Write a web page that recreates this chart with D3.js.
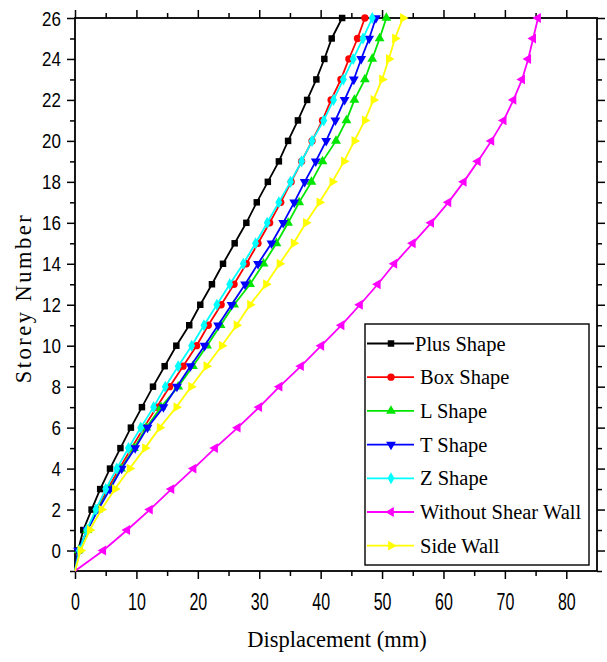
<!DOCTYPE html>
<html>
<head>
<meta charset="utf-8">
<script src="https://d3js.org/d3.v7.min.js"></script>
<style>
  body { margin: 0; background: #fff; }
  .tick text { font-family: "Liberation Sans", Arial, sans-serif; font-size: 20px; fill: #000; }
  .axis line { stroke: #000; stroke-width: 1.5; }
  .title { font-family: "Liberation Serif", Tinos, "Times New Roman", serif; font-size: 22.5px; fill: #000; }
  .legend text { font-family: "Liberation Serif", Tinos, "Times New Roman", serif; font-size: 20.5px; fill: #000; }
</style>
</head>
<body>
<script>
// storey levels (-1 = base)
var storeys = d3.range(-1, 27);

var plusShape = [0, 0.5, 1.35, 2.7, 4.1, 5.7, 7.4, 9.1, 10.9, 12.7, 14.6, 16.5, 18.6, 20.4, 22.3, 24.1, 26.0, 27.9, 29.6, 31.4, 33.2, 34.7, 36.3, 37.8, 39.3, 40.6, 41.8, 43.5];
var boxShape = [0, 0.7, 2.0, 3.6, 5.3, 7.2, 9.2, 11.2, 13.3, 15.4, 17.6, 19.8, 21.7, 23.8, 25.9, 27.9, 29.8, 31.7, 33.5, 35.2, 36.9, 38.6, 40.3, 41.7, 43.3, 44.6, 46.0, 47.2];
var lShape = [0, 0.6, 2.0, 3.7, 5.6, 7.5, 9.6, 11.6, 14.0, 16.8, 19.2, 21.5, 23.7, 25.9, 28.5, 30.7, 32.8, 34.7, 36.5, 38.5, 40.3, 42.5, 44.2, 45.5, 47.2, 48.4, 49.6, 50.7];
var tShape = [0, 0.5, 2.0, 3.8, 5.7, 7.6, 9.8, 11.8, 14.4, 16.6, 18.8, 21.1, 23.3, 25.5, 27.7, 29.8, 32.0, 33.9, 35.7, 37.4, 39.2, 40.9, 42.4, 43.9, 45.4, 46.6, 47.9, 49.0];
var zShape = [0, 0.7, 1.9, 3.4, 5.0, 6.8, 8.7, 10.7, 12.8, 14.7, 16.8, 19.0, 21.0, 23.1, 25.2, 27.4, 29.4, 31.3, 33.2, 35.1, 36.9, 38.6, 40.5, 42.1, 43.7, 45.3, 46.9, 48.4];
var withoutWall = [0, 4.6, 8.5, 12.2, 15.7, 19.3, 22.8, 26.5, 30.0, 33.3, 36.8, 40.1, 43.4, 46.4, 49.3, 52.0, 55.0, 58.0, 60.8, 63.3, 65.6, 67.8, 69.8, 71.4, 72.8, 73.8, 74.6, 75.4];
var sideWall = [0, 0.9, 2.4, 4.3, 6.5, 8.9, 11.4, 13.8, 16.5, 18.9, 21.4, 23.9, 26.3, 28.5, 31.1, 33.3, 35.6, 37.6, 39.8, 41.9, 43.8, 45.5, 47.2, 48.6, 50.0, 51.1, 52.1, 53.4];

var seriesNames = ["Plus Shape", "Box Shape", "L Shape", "T Shape", "Z Shape", "Without Shear Wall", "Side Wall"];
var seriesValues = [plusShape, boxShape, lShape, tShape, zShape, withoutWall, sideWall];
var seriesColors = ["#000000", "#ff0000", "#00e600", "#0000ff", "#00ffff", "#ff00ff", "#ffff00"];
var seriesSymbols = ["square", "circle", "up", "down", "diamond", "left", "right"];

var xTicks = d3.range(0, 81, 10);
var yTicks = d3.range(0, 27, 2);

var width = 607, height = 662;
var margin = {top: 18, right: 10, bottom: 91, left: 75};

var x = d3.scaleLinear().domain([0, 85]).range([margin.left, width - margin.right]);
var y = d3.scaleLinear().domain([-1, 26]).range([height - margin.bottom, margin.top]);

var svg = d3.select("body").append("svg")
    .attr("width", width)
    .attr("height", height);

function symbolPath(kind, size) {
    var type = d3.symbolTriangle, rot = 0;
    if (kind == "square") type = d3.symbolSquare;
    else if (kind == "circle") type = d3.symbolCircle;
    else if (kind == "diamond") type = d3.symbolDiamond;
    else if (kind == "down") rot = 180;
    else if (kind == "left") rot = -90;
    else if (kind == "right") rot = 90;
    return {d: d3.symbol().type(type).size(size)(), rot: rot};
}

var x0 = margin.left, x1 = width - margin.right;
var y0 = height - margin.bottom, y1 = margin.top;

function noDomain(g) { g.select(".domain").remove(); }

// bottom axis, labels condensed and a bit tall like the original
svg.append("g").attr("class", "axis")
    .attr("transform", "translate(0," + y0 + ")")
    .call(d3.axisBottom(x).tickValues(xTicks).tickSize(8))
    .call(noDomain)
    .call(function(g) {
        g.selectAll("text")
            .attr("y", 0).attr("dy", 0)
            .attr("transform", "translate(0,39) scale(0.8,1.2)");
    });
svg.append("g").attr("class", "axis")
    .attr("transform", "translate(0," + y0 + ")")
    .call(d3.axisBottom(x).tickValues(d3.range(5, 85, 10)).tickSize(5).tickFormat(""))
    .call(noDomain);
svg.append("g").attr("class", "axis")
    .attr("transform", "translate(0," + y1 + ")")
    .call(d3.axisTop(x).tickValues(xTicks).tickSize(8).tickFormat(""))
    .call(noDomain);
svg.append("g").attr("class", "axis")
    .attr("transform", "translate(0," + y1 + ")")
    .call(d3.axisTop(x).tickValues(d3.range(5, 85, 10)).tickSize(5).tickFormat(""))
    .call(noDomain);

// left axis
svg.append("g").attr("class", "axis")
    .attr("transform", "translate(" + x0 + ",0)")
    .call(d3.axisLeft(y).tickValues(yTicks).tickSize(8))
    .call(noDomain)
    .call(function(g) {
        g.selectAll("text")
            .attr("x", 0).attr("dy", 0)
            .attr("transform", "translate(-14,7) scale(0.85,1)");
    });
svg.append("g").attr("class", "axis")
    .attr("transform", "translate(" + x0 + ",0)")
    .call(d3.axisLeft(y).tickValues(d3.range(-1, 26, 2)).tickSize(5).tickFormat(""))
    .call(noDomain);
svg.append("g").attr("class", "axis")
    .attr("transform", "translate(" + x1 + ",0)")
    .call(d3.axisRight(y).tickValues(yTicks).tickSize(8).tickFormat(""))
    .call(noDomain);
svg.append("g").attr("class", "axis")
    .attr("transform", "translate(" + x1 + ",0)")
    .call(d3.axisRight(y).tickValues(d3.range(-1, 26, 2)).tickSize(5).tickFormat(""))
    .call(noDomain);

// frame
svg.append("rect")
    .attr("x", x0).attr("y", y1)
    .attr("width", x1 - x0).attr("height", y0 - y1)
    .attr("fill", "none").attr("stroke", "#000").attr("stroke-width", 1.8);

// series
var line = d3.line()
    .x(function(d) { return x(d.v); })
    .y(function(d) { return y(d.s); });

seriesValues.forEach(function(vals, i) {
    var pts = vals.map(function(v, j) { return {v: v, s: storeys[j]}; });
    var g = svg.append("g");
    g.append("path")
        .datum(pts)
        .attr("fill", "none")
        .attr("stroke", seriesColors[i])
        .attr("stroke-width", 1.8)
        .attr("d", line);
    var sym = symbolPath(seriesSymbols[i], 42);
    g.selectAll("path.mk")
        .data(pts.slice(1))
        .enter().append("path")
        .attr("class", "mk")
        .attr("d", sym.d)
        .attr("fill", seriesColors[i])
        .attr("transform", function(d) {
            return "translate(" + x(d.v) + "," + y(d.s) + ") rotate(" + sym.rot + ")";
        });
});

// legend
var legend = svg.append("g").attr("class", "legend");
legend.append("rect")
    .attr("x", 365).attr("y", 324)
    .attr("width", 224).attr("height", 241)
    .attr("fill", "#fff").attr("stroke", "#000").attr("stroke-width", 1.4);

seriesNames.forEach(function(name, i) {
    var ly = 343.5 + i * 33.7;
    var item = legend.append("g").attr("transform", "translate(0," + ly + ")");
    item.append("line")
        .attr("x1", 367).attr("x2", 414)
        .attr("y1", 0).attr("y2", 0)
        .attr("stroke", seriesColors[i]).attr("stroke-width", 1.8);
    var sym = symbolPath(seriesSymbols[i], 42);
    item.append("path")
        .attr("d", sym.d)
        .attr("fill", seriesColors[i])
        .attr("transform", "translate(391,0) rotate(" + sym.rot + ")");
    item.append("text")
        .attr("x", i == 0 ? 415 : 420)
        .attr("y", 7)
        .text(name);
});

// axis titles
svg.append("text")
    .attr("class", "title")
    .attr("x", 337)
    .attr("y", 647)
    .attr("text-anchor", "middle")
    .text("Displacement (mm)");

svg.append("text")
    .attr("class", "title")
    .attr("transform", "translate(31,298) rotate(-90)")
    .attr("text-anchor", "middle")
    .style("letter-spacing", "2.5px")
    .text("Storey Number");
</script>
</body>
</html>
